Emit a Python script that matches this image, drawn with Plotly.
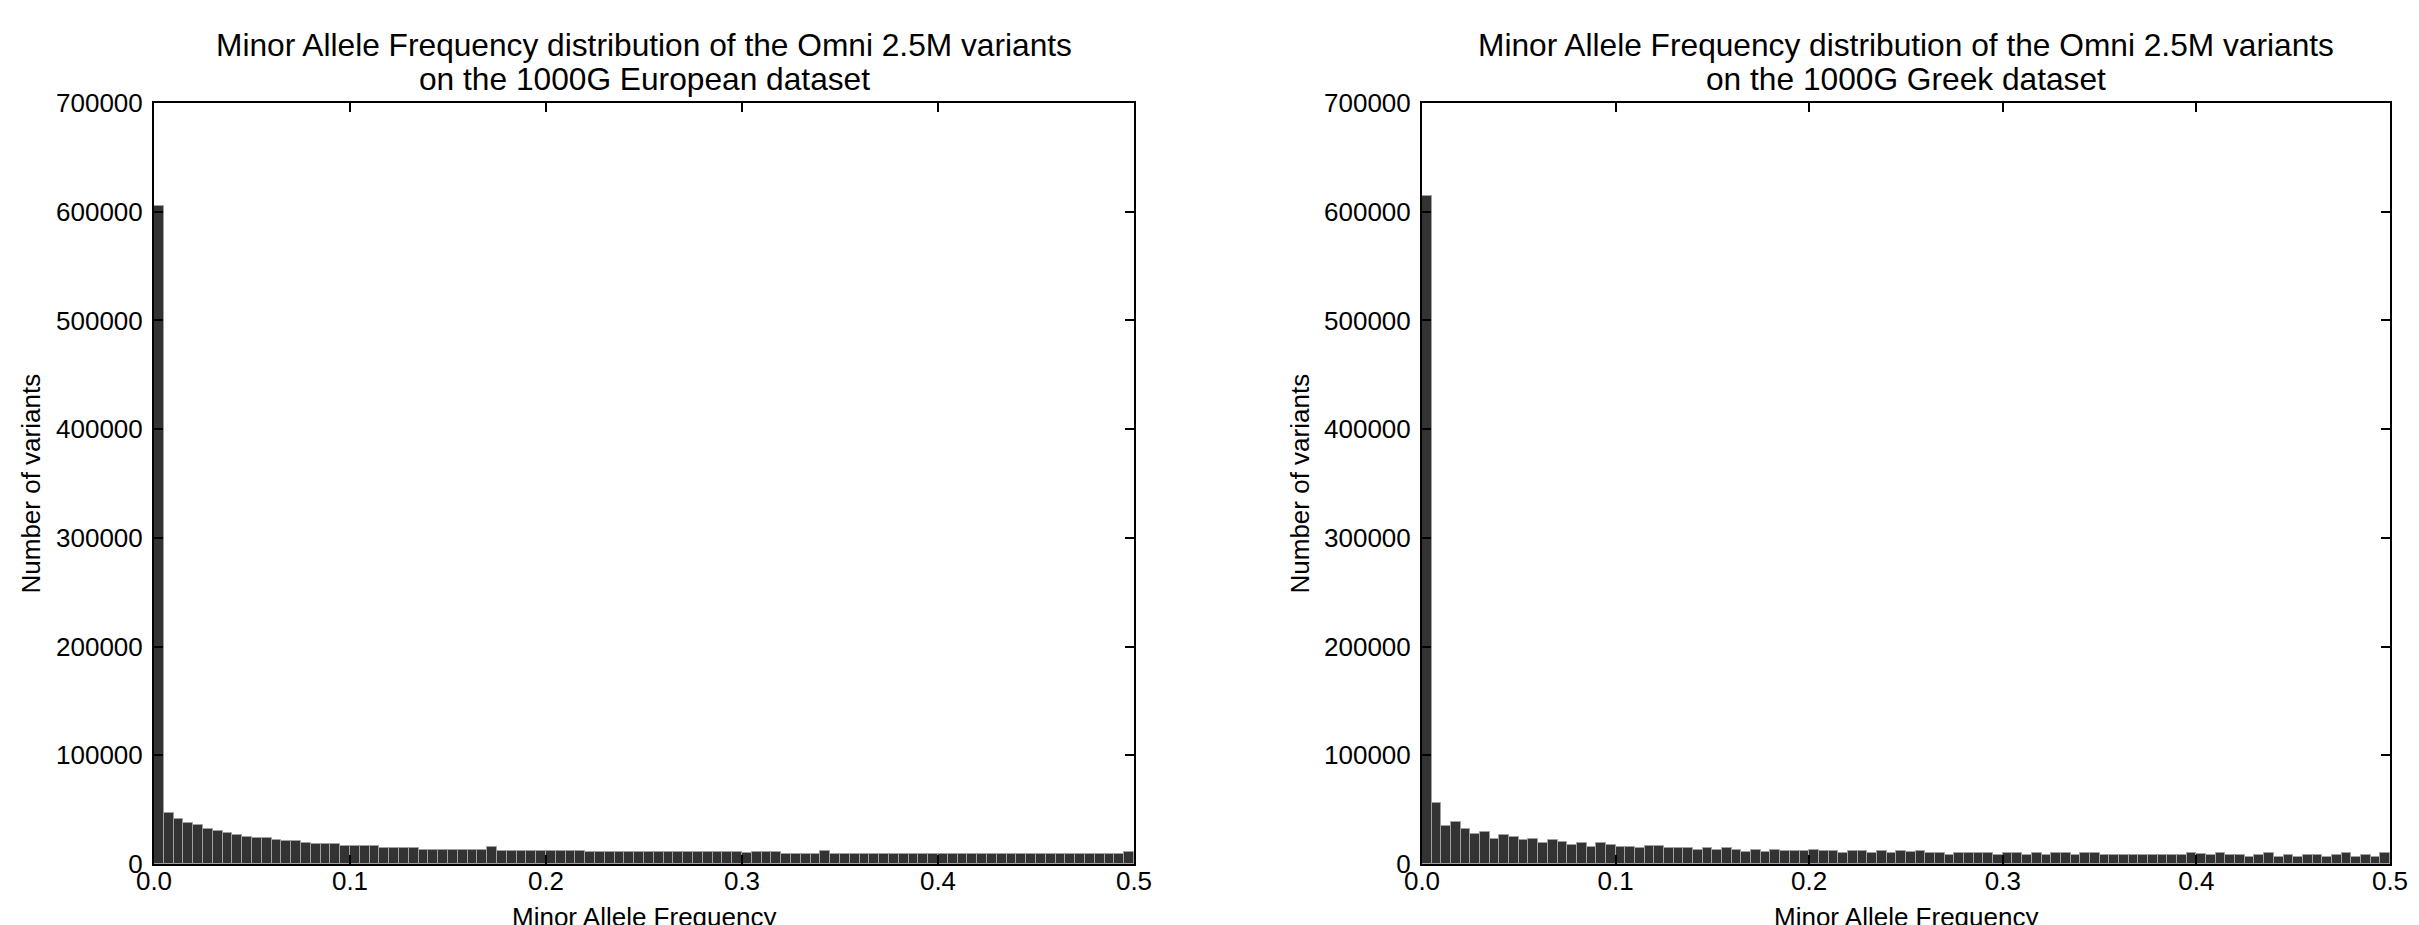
import numpy as np
import plotly.graph_objects as go

# ---------------- data ----------------
bin_width = 0.005
bin_edges = np.linspace(0.0, 0.5, 101)
bin_centers = (bin_edges[:-1] + bin_edges[1:]) / 2

euro_counts = [
    605000, 47000, 41100, 37400, 35600, 32500, 30700, 28200, 27000, 25100,
    23600, 23600, 22100, 20900, 20900, 19600, 18100, 18100, 18100, 17000,
    16300, 16300, 16300, 14700, 14700, 14700, 14700, 13200, 13200, 13200,
    13200, 13200, 13200, 13200, 15300, 12000, 12000, 12000, 12000, 12000,
    12000, 12000, 12000, 12000, 10700, 10700, 10700, 10700, 10700, 10700,
    10700, 10700, 10700, 10700, 10700, 10700, 10700, 10700, 10700, 10700,
    10300, 10700, 10700, 10700, 9500, 9500, 9500, 9500, 12300, 9500,
    9500, 9500, 9500, 9500, 9500, 9500, 9500, 9500, 9500, 9500,
    9300, 9500, 9500, 9500, 9500, 9500, 9500, 9500, 9500, 9500,
    9500, 9500, 9500, 9500, 9500, 9500, 9500, 9500, 9500, 10700,
]

greek_counts = [
    614000, 55800, 35000, 38300, 32200, 27900, 29400, 23300, 27000, 24800,
    21800, 23300, 19000, 22100, 20600, 17200, 19300, 15900, 19600, 17800,
    15900, 15900, 14400, 16300, 16300, 14400, 14400, 14400, 12900, 14700,
    13200, 14700, 12900, 11300, 13200, 11300, 13200, 11700, 11700, 11700,
    13200, 11700, 11700, 9800, 11700, 11700, 9800, 11700, 9800, 11700,
    11000, 11600, 10100, 10100, 8300, 10100, 10100, 10100, 10100, 8300,
    10400, 10100, 8300, 10400, 8300, 10400, 10400, 8300, 10400, 10400,
    8300, 8300, 8300, 8300, 8300, 8300, 8300, 8300, 8300, 10400,
    9200, 8300, 10400, 8300, 8300, 6400, 8300, 10400, 6400, 8300,
    6400, 8300, 8300, 6400, 8300, 10400, 6400, 8300, 6400, 10400,
]

titles_line1 = ["Minor Allele Frequency distribution of the Omni 2.5M variants",
                "Minor Allele Frequency distribution of the Omni 2.5M variants"]
titles_line2 = ["on the 1000G European dataset", "on the 1000G Greek dataset"]
x_label = "Minor Allele Frequency"
y_label = "Number of variants"
x_ticks = [0.0, 0.1, 0.2, 0.3, 0.4, 0.5]
y_ticks = [0, 100000, 200000, 300000, 400000, 500000, 600000, 700000]

# ---------------- layout geometry ----------------
W, H = 2419, 925
PAGE_OFFSET = 8  # default body margin of the html page
FONT = "Liberation Sans, Arial, Helvetica, sans-serif"
left_px = [(154, 1134), (1422, 2390)]
top_px, bottom_px = 103, 864

def px_x(p):
    return (p - PAGE_OFFSET) / W

def px_y(p):
    return 1 - (p - PAGE_OFFSET) / H

fig = go.Figure()

series = [euro_counts, greek_counts]
for i, counts in enumerate(series):
    xa = "x" if i == 0 else "x2"
    ya = "y" if i == 0 else "y2"
    fig.add_trace(go.Bar(
        x=bin_centers, y=counts, width=bin_width,
        marker=dict(color="#333333", line=dict(color="#a0a0a0", width=1)),
        xaxis=xa, yaxis=ya, showlegend=False,
    ))

axis_common = dict(
    showline=True, linecolor="black", linewidth=2, mirror="ticks",
    ticks="inside", ticklen=9, tickwidth=1.5, tickcolor="black",
    showgrid=False, zeroline=False, automargin=False,
    tickfont=dict(family=FONT, size=26, color="black"),
)

layout = dict(
    template="none",
    width=W, height=H,
    margin=dict(l=0, r=0, t=0, b=0, pad=0),
    paper_bgcolor="white", plot_bgcolor="white",
    bargap=0,
    font=dict(family=FONT, color="black"),
    showlegend=False,
)

annotations = []
for i, (l, r) in enumerate(left_px):
    sx = "" if i == 0 else "2"
    layout["xaxis" + sx] = dict(
        axis_common, domain=[px_x(l), px_x(r)], range=[0, 0.5],
        tickvals=x_ticks, tickformat=".1f", anchor="y" + sx,
        ticklabelstandoff=-7,
    )
    layout["yaxis" + sx] = dict(
        axis_common, domain=[px_y(bottom_px), px_y(top_px)], range=[0, 700000],
        tickvals=y_ticks, tickformat="d", anchor="x" + sx,
        ticklabelstandoff=4,
    )
    cx = px_x((l + r) / 2)
    annotations.append(dict(text=titles_line1[i], x=cx, y=px_y(45), xref="paper", yref="paper",
                            showarrow=False, xanchor="center", yanchor="middle",
                            font=dict(family=FONT, size=31.7, color="black")))
    annotations.append(dict(text=titles_line2[i], x=cx, y=px_y(79), xref="paper", yref="paper",
                            showarrow=False, xanchor="center", yanchor="middle",
                            font=dict(family=FONT, size=31.7, color="black")))
    annotations.append(dict(text=x_label, x=cx, y=px_y(917), xref="paper", yref="paper",
                            showarrow=False, xanchor="center", yanchor="middle",
                            font=dict(family=FONT, size=26, color="black")))
    ylx = 31 if i == 0 else 1300
    annotations.append(dict(text=y_label, x=px_x(ylx), y=px_y((top_px + bottom_px) / 2),
                            xref="paper", yref="paper", textangle=-90,
                            showarrow=False, xanchor="center", yanchor="middle",
                            font=dict(family=FONT, size=26, color="black")))

layout["annotations"] = annotations
fig.update_layout(**layout)

fig.write_html("out.html")
